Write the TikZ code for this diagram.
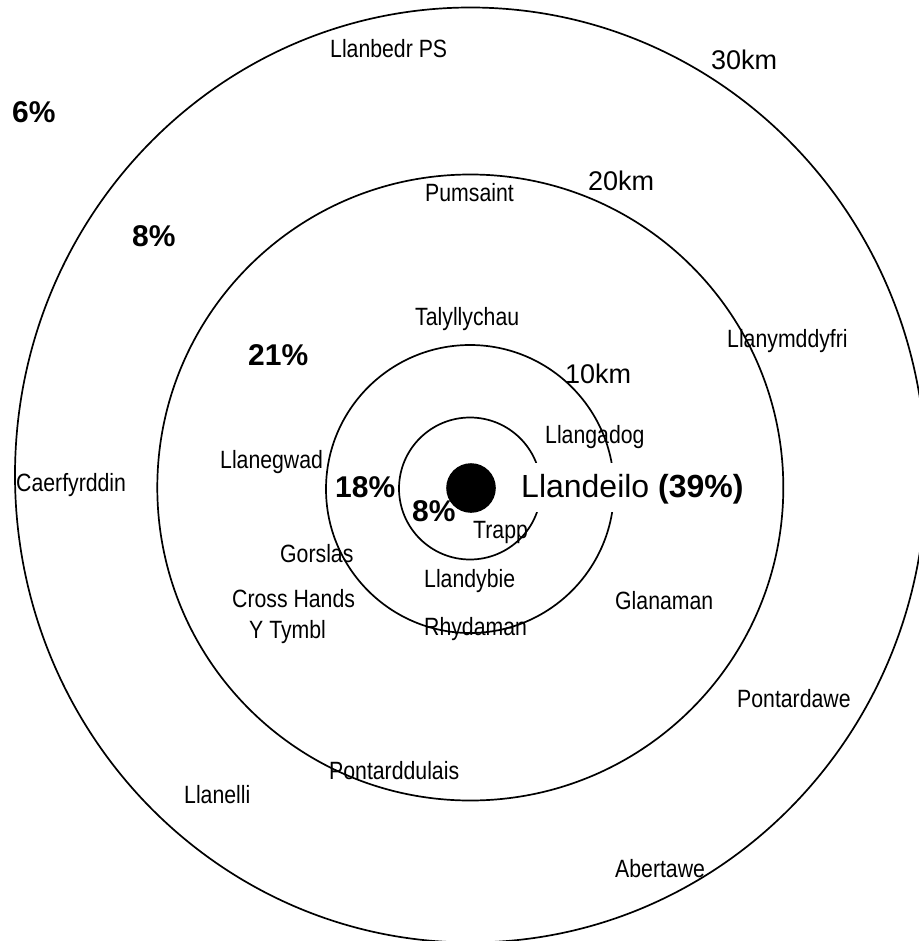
\documentclass[tikz,border=0pt]{standalone}
\usepackage{fontspec}
\setmainfont{Liberation Sans}
\newfontfamily\narrowfont[FakeStretch=0.85]{Liberation Sans}
\begin{document}
\begin{tikzpicture}[x=1pt,y=-1pt,
  ring/.style={draw=black, line width=1.7pt},
  town/.style={font=\narrowfont\fontsize{25}{30}\selectfont, inner sep=0pt, anchor=base west},
  pct/.style={font=\bfseries\fontsize{30}{36}\selectfont, inner sep=0pt, anchor=base west},
  kmlabel/.style={font=\fontsize{27}{32}\selectfont, inner sep=0pt, anchor=base west}]
\useasboundingbox (0,0) rectangle (918,941);
% rings
\draw[ring] (470.5,475) ellipse [x radius=455.5pt, y radius=467.5pt];
\draw[ring] (470.3,487.5) circle [radius=313pt];
\draw[ring] (470,489) circle [radius=144pt];
\draw[ring] (470,488.5) circle [radius=71pt];
\fill[black] (471,488) circle [radius=24.8pt];
% centre label (white background cuts rings)
\node[fill=white, inner xsep=4pt, inner ysep=0pt, text height=34pt, text depth=15pt,
      anchor=base west, font=\fontsize{32}{38}\selectfont] (llandeilo) at (517,497) {Llandeilo \textbf{(39\%)}};
% distance labels
\node[kmlabel] (km30) at (711,70) {30km};
\node[kmlabel] (km20) at (588,191) {20km};
\node[kmlabel] (km10) at (565,383) {10km};
% percentages
\node[pct] (p6) at (12,123) {6\%};
\node[pct] (p8a) at (132,246) {8\%};
\node[pct] (p21) at (248,365) {21\%};
\node[pct] (p18) at (335,497) {18\%};
\node[pct] (p8b) at (412,521) {8\%};
% towns
\node[town] (llanbedr) at (330,58) {Llanbedr PS};
\node[town] (pumsaint) at (425,202) {Pumsaint};
\node[town] (talyllychau) at (415,325) {Talyllychau};
\node[town] (llanymddyfri) at (727,347) {Llanymddyfri};
\node[town] (llangadog) at (545,443) {Llangadog};
\node[town] (llanegwad) at (220,468) {Llanegwad};
\node[town] (caerfyrddin) at (16,491) {Caerfyrddin};
\node[town] (trapp) at (473,538) {Trapp};
\node[town] (gorslas) at (280,562) {Gorslas};
\node[town] (llandybie) at (424,587) {Llandybie};
\node[town] (crosshands) at (232,607) {Cross Hands};
\node[town] (glanaman) at (615,609) {Glanaman};
\node[town] (ytymbl) at (249,638) {Y Tymbl};
\node[town] (rhydaman) at (424,635) {Rhydaman};
\node[town] (pontardawe) at (737,707) {Pontardawe};
\node[town] (pontarddulais) at (329,779) {Pontarddulais};
\node[town] (llanelli) at (184,803) {Llanelli};
\node[town] (abertawe) at (615,877) {Abertawe};
\end{tikzpicture}
\end{document}
